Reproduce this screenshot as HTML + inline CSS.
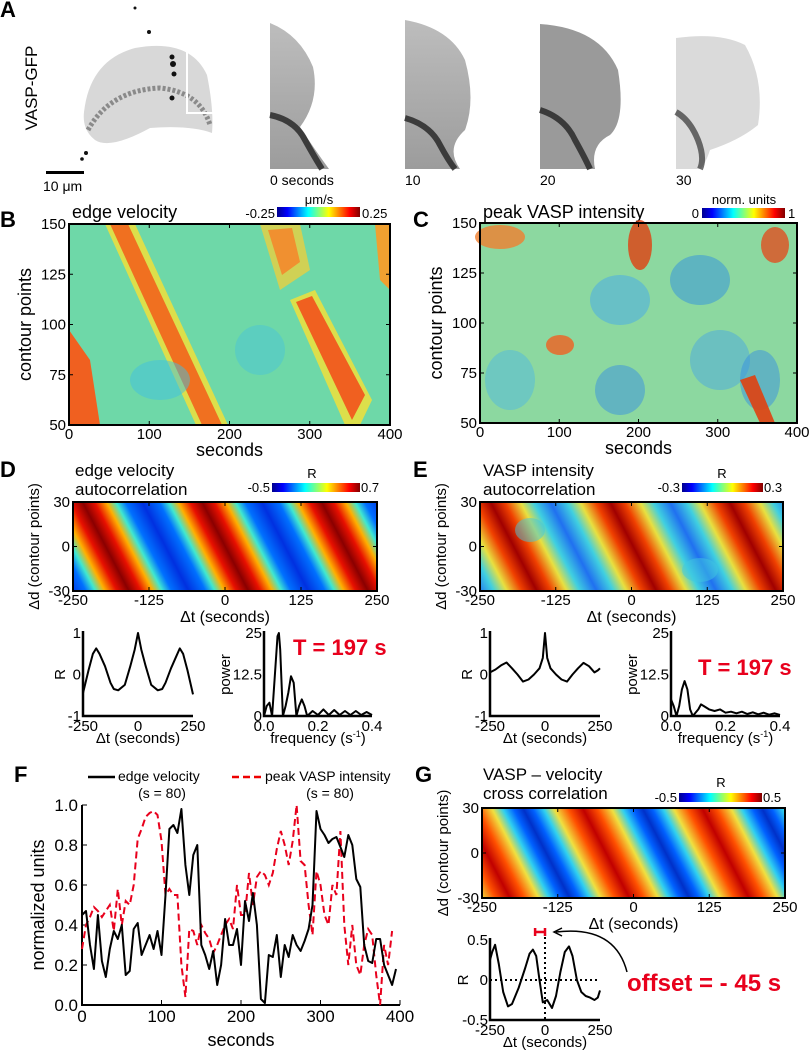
<!DOCTYPE html>
<html><head><meta charset="utf-8"><style>
html,body{margin:0;padding:0;background:#fff;}
svg{display:block;font-family:"Liberation Sans Narrow","Liberation Sans",sans-serif;}
</style></head><body>
<svg id="fig" width="809" height="1050" viewBox="0 0 809 1050" xmlns="http://www.w3.org/2000/svg">
<defs>
<linearGradient id="jet" x1="0" x2="1" y1="0" y2="0">
<stop offset="0" stop-color="#00008f"/><stop offset="0.125" stop-color="#0000ff"/><stop offset="0.375" stop-color="#00ffff"/><stop offset="0.625" stop-color="#ffff00"/><stop offset="0.875" stop-color="#ff0000"/><stop offset="1" stop-color="#800000"/>
</linearGradient>
<linearGradient id="stripeD" gradientUnits="userSpaceOnUse" x1="225" y1="546" x2="319" y2="497" spreadMethod="repeat">
<stop offset="0" stop-color="#8a0000"/><stop offset="0.1" stop-color="#e81000"/><stop offset="0.2" stop-color="#ffb000"/><stop offset="0.28" stop-color="#40e8d0"/><stop offset="0.36" stop-color="#0070ff"/><stop offset="0.5" stop-color="#0030e0"/><stop offset="0.64" stop-color="#0070ff"/><stop offset="0.72" stop-color="#40e8d0"/><stop offset="0.8" stop-color="#ffb000"/><stop offset="0.9" stop-color="#e81000"/><stop offset="1" stop-color="#8a0000"/>
</linearGradient>
<linearGradient id="stripeE" gradientUnits="userSpaceOnUse" x1="633" y1="546" x2="727" y2="497" spreadMethod="repeat">
<stop offset="0" stop-color="#a00000"/><stop offset="0.12" stop-color="#f04000"/><stop offset="0.25" stop-color="#e8e040"/><stop offset="0.36" stop-color="#40d0e0"/><stop offset="0.5" stop-color="#2070f0"/><stop offset="0.64" stop-color="#40d0e0"/><stop offset="0.75" stop-color="#e8e040"/><stop offset="0.88" stop-color="#f04000"/><stop offset="1" stop-color="#a00000"/>
</linearGradient>
<linearGradient id="stripeG" gradientUnits="userSpaceOnUse" x1="606" y1="853" x2="700" y2="804" spreadMethod="repeat">
<stop offset="0" stop-color="#c00000"/><stop offset="0.12" stop-color="#ff5000"/><stop offset="0.24" stop-color="#f0e040"/><stop offset="0.33" stop-color="#30d0f0"/><stop offset="0.42" stop-color="#0060ff"/><stop offset="0.5" stop-color="#0030c8"/><stop offset="0.58" stop-color="#0060ff"/><stop offset="0.67" stop-color="#30d0f0"/><stop offset="0.76" stop-color="#f0e040"/><stop offset="0.88" stop-color="#ff5000"/><stop offset="1" stop-color="#c00000"/>
</linearGradient>
<linearGradient id="frameGray" x1="0" y1="0" x2="0" y2="1"><stop offset="0" stop-color="#bdbdbd"/><stop offset="1" stop-color="#9c9c9c"/></linearGradient>
</defs>

<!-- Panel A -->
<g>
<text x="0" y="17" font-size="22" font-weight="bold" font-family="Liberation Sans">A</text>
<text transform="translate(37,88) rotate(-90)" text-anchor="middle" font-size="17">VASP-GFP</text>
<rect x="48" y="5" width="170" height="140" fill="#ffffff"/>
<path d="M84,112 Q90,60 135,48 Q190,38 207,75 Q214,110 212,133 Q190,125 150,128 Q110,150 95,140 Q82,130 84,112Z" fill="#d8d8d8"/>
<path d="M88,130 Q110,90 160,88 Q200,92 210,125" fill="none" stroke="#777" stroke-width="5" stroke-dasharray="3 2" opacity="0.8"/>
<g fill="#111"><circle cx="135" cy="8" r="1.5"/><circle cx="149" cy="32" r="2"/><circle cx="172" cy="57" r="2.5"/><circle cx="173" cy="64" r="3"/><circle cx="174" cy="74" r="2.5"/><circle cx="172" cy="98" r="2.5"/><circle cx="86" cy="153" r="2"/><circle cx="82" cy="159" r="1.8"/></g>
<path d="M187,38 L187,113 L217,113" fill="none" stroke="#fff" stroke-width="2"/>
<rect x="46" y="171" width="38" height="3" fill="#000"/>
<text x="43" y="191" font-size="14">10 μm</text>
<path d="M270,23 Q300,35 313,67 Q320,100 300,127 Q315,150 329,169 L270,169Z" fill="url(#frameGray)"/>
<path d="M270,115 Q295,120 305,140 Q315,158 322,169" fill="none" stroke="#222" stroke-width="6" opacity="0.8"/>
<path d="M405,20 Q450,28 465,60 Q476,100 465,130 Q445,148 460,169 L405,169Z" fill="url(#frameGray)"/>
<path d="M405,118 Q430,125 440,145 Q448,160 455,169" fill="none" stroke="#222" stroke-width="6" opacity="0.8"/>
<path d="M540,24 Q600,28 618,70 Q626,120 610,135 Q590,145 595,169 L540,169Z" fill="#9a9a9a"/>
<path d="M540,110 Q565,118 575,140 Q585,158 590,169" fill="none" stroke="#222" stroke-width="6" opacity="0.8"/>
<path d="M676,38 Q720,32 745,45 Q765,80 758,125 Q740,140 710,150 Q705,165 700,169 L676,169Z" fill="#dadada"/>
<path d="M676,112 Q690,120 698,140 Q705,158 700,169" fill="none" stroke="#333" stroke-width="6" opacity="0.7"/>
<text x="270" y="185" font-size="14">0 seconds</text>
<text x="405" y="185" font-size="14">10</text>
<text x="540" y="185" font-size="14">20</text>
<text x="676" y="185" font-size="14">30</text>
</g>

<!-- Panel B -->
<g>
<text x="0" y="227" font-size="22" font-weight="bold" font-family="Liberation Sans">B</text>
<text x="72" y="218" font-size="18">edge velocity</text>
<text x="319" y="204" font-size="13" text-anchor="middle">μm/s</text>
<text x="275" y="218" font-size="13" text-anchor="end">-0.25</text>
<rect x="277" y="207" width="83" height="10" fill="url(#jet)"/>
<text x="362" y="218" font-size="13">0.25</text>
<rect x="69" y="224" width="321" height="201" fill="#6ed8a8"/>
<g>
<polygon points="105,224 135,224 228,425 196,425" fill="#e8e040" opacity="0.9"/>
<polygon points="110,224 128,224 222,425 202,425" fill="#f07020"/>
<polygon points="260,224 300,224 310,270 280,290" fill="#e8d040" opacity="0.8"/>
<polygon points="268,230 292,228 300,262 282,275" fill="#f09030"/>
<polygon points="290,300 315,290 372,400 360,425 345,425" fill="#e8e040" opacity="0.9"/>
<polygon points="296,302 312,296 365,395 352,420" fill="#f06020"/>
<polygon points="69,330 90,360 100,425 69,425" fill="#f06020"/>
<polygon points="375,224 390,224 390,290 380,280" fill="#f0a030"/>
<ellipse cx="160" cy="380" rx="30" ry="20" fill="#40c0e0" opacity="0.5"/>
<ellipse cx="260" cy="350" rx="25" ry="25" fill="#40c0e0" opacity="0.4"/>
</g>
<rect x="69" y="224" width="321" height="201" fill="none" stroke="#000" stroke-width="2"/>
</g>

<!-- Panel C -->
<g>
<text x="413" y="227" font-size="22" font-weight="bold" font-family="Liberation Sans">C</text>
<text x="483" y="218" font-size="18">peak VASP intensity</text>
<text x="744" y="204" font-size="13" text-anchor="middle">norm. units</text>
<text x="699" y="218" font-size="13" text-anchor="end">0</text>
<rect x="702" y="208" width="83" height="10" fill="url(#jet)"/>
<text x="788" y="218" font-size="13">1</text>
<rect x="480" y="223" width="317" height="200" fill="#8cd8a0"/>
<ellipse cx="500" cy="237" rx="25" ry="12" fill="#f08030" opacity="0.8"/>
<ellipse cx="640" cy="245" rx="12" ry="25" fill="#e04010" opacity="0.8"/>
<ellipse cx="775" cy="245" rx="14" ry="18" fill="#e05020" opacity="0.8"/>
<ellipse cx="560" cy="345" rx="14" ry="10" fill="#f06020" opacity="0.8"/>
<ellipse cx="620" cy="300" rx="30" ry="25" fill="#50b0e0" opacity="0.6"/>
<ellipse cx="700" cy="280" rx="30" ry="25" fill="#3090e0" opacity="0.5"/>
<ellipse cx="720" cy="360" rx="30" ry="30" fill="#4aa8e0" opacity="0.5"/>
<ellipse cx="620" cy="390" rx="25" ry="25" fill="#3890e0" opacity="0.5"/>
<ellipse cx="760" cy="380" rx="20" ry="30" fill="#3890e0" opacity="0.5"/>
<ellipse cx="510" cy="380" rx="25" ry="30" fill="#50b8e0" opacity="0.5"/>
<polygon points="740,380 755,375 775,423 760,423" fill="#e04010" opacity="0.9"/>
<rect x="480" y="223" width="317" height="200" fill="none" stroke="#000" stroke-width="2"/>
</g>

<!-- Panel D -->
<g>
<text x="0" y="477" font-size="22" font-weight="bold" font-family="Liberation Sans">D</text>
<text x="75" y="476" font-size="17">edge velocity</text>
<text x="75" y="495" font-size="17">autocorrelation</text>
<text x="312" y="478" font-size="13" text-anchor="middle">R</text>
<text x="270" y="492" font-size="13" text-anchor="end">-0.5</text>
<rect x="272" y="483" width="88" height="9" fill="url(#jet)"/>
<text x="361" y="492" font-size="13">0.7</text>
<rect x="73" y="502" width="304" height="89" fill="url(#stripeD)" stroke="#000" stroke-width="2"/>
</g>

<!-- Panel E -->
<g>
<text x="413" y="477" font-size="22" font-weight="bold" font-family="Liberation Sans">E</text>
<text x="483" y="476" font-size="17">VASP intensity</text>
<text x="483" y="495" font-size="17">autocorrelation</text>
<text x="722" y="478" font-size="13" text-anchor="middle">R</text>
<text x="680" y="492" font-size="13" text-anchor="end">-0.3</text>
<rect x="682" y="483" width="81" height="9" fill="url(#jet)"/>
<text x="764" y="492" font-size="13">0.3</text>
<rect x="480" y="502" width="303" height="89" fill="url(#stripeE)" stroke="#000" stroke-width="2"/>
<ellipse cx="530" cy="530" rx="15" ry="12" fill="#40c8e0" opacity="0.5"/>
<ellipse cx="700" cy="570" rx="18" ry="12" fill="#40c8e0" opacity="0.5"/>
</g>

<!-- Panel F -->
<g>
<text x="14" y="782" font-size="22" font-weight="bold" font-family="Liberation Sans">F</text>
<line x1="88" y1="777" x2="115" y2="777" stroke="#000" stroke-width="2.5"/>
<text x="118" y="781" font-size="14">edge velocity</text>
<text x="162" y="798" font-size="14" text-anchor="middle">(s = 80)</text>
<line x1="232" y1="777" x2="262" y2="777" stroke="#e00" stroke-width="2.5" stroke-dasharray="7 4"/>
<text x="265" y="781" font-size="14">peak VASP intensity</text>
<text x="330" y="798" font-size="14" text-anchor="middle">(s = 80)</text>
<text transform="translate(44,905) rotate(-90)" text-anchor="middle" font-size="18">normalized units</text>
<text x="241" y="1046" text-anchor="middle" font-size="18">seconds</text>
</g>

<!-- Panel G -->
<g>
<text x="415" y="782" font-size="22" font-weight="bold" font-family="Liberation Sans">G</text>
<text x="483" y="780" font-size="17">VASP – velocity</text>
<text x="483" y="799" font-size="17">cross correlation</text>
<text x="721" y="787" font-size="13" text-anchor="middle">R</text>
<text x="677" y="802" font-size="13" text-anchor="end">-0.5</text>
<rect x="679" y="793" width="83" height="9" fill="url(#jet)"/>
<text x="763" y="802" font-size="13">0.5</text>
<rect x="482" y="808" width="303" height="90" fill="url(#stripeG)" stroke="#000" stroke-width="2"/>
<text x="627" y="991" font-size="24" font-weight="bold" fill="#e8001c" font-family="Liberation Sans">offset = - 45 s</text>
<path d="M627,972 Q615,925 556,932" fill="none" stroke="#000" stroke-width="1.5"/>
<path d="M562,928 L554,932 L562,936" fill="none" stroke="#000" stroke-width="1.5"/>
</g>
<g id="dyn"></g>
</svg>
<script>
// ---- Panel F data ----
const fEdgeVelocity = [0.45,0.47,0.3,0.18,0.45,0.22,0.14,0.28,0.37,0.33,0.4,0.15,0.17,0.38,0.41,0.25,0.3,0.35,0.28,0.37,0.25,0.55,0.88,0.9,0.86,0.98,0.7,0.55,0.75,0.8,0.3,0.25,0.18,0.27,0.1,0.2,0.43,0.3,0.3,0.38,0.2,0.52,0.42,0.56,0.4,0.03,0.01,0.25,0.24,0.35,0.14,0.3,0.24,0.35,0.3,0.27,0.32,0.38,0.5,0.97,0.88,0.85,0.81,0.83,0.84,0.79,0.74,0.85,0.8,0.63,0.59,0.3,0.22,0.21,0.33,0.33,0.2,0.15,0.1,0.18];
const fVaspIntensity = [0.28,0.4,0.44,0.49,0.47,0.44,0.47,0.5,0.37,0.58,0.4,0.52,0.5,0.6,0.83,0.88,0.94,0.96,0.97,0.95,0.82,0.55,0.58,0.55,0.55,0.2,0.04,0.38,0.37,0.3,0.4,0.36,0.33,0.26,0.3,0.35,0.4,0.43,0.38,0.6,0.45,0.45,0.66,0.5,0.64,0.67,0.65,0.6,0.66,0.78,0.87,0.8,0.7,0.82,1.0,0.72,0.7,0.5,0.35,0.67,0.6,0.45,0.4,0.6,0.55,0.87,0.4,0.2,0.4,0.2,0.15,0.3,0.38,0.35,0.15,0.0,0.3,0.2,0.37];
const fSampleStep = 5;
const fXTicks = [0,100,200,300,400];
const fYTicks = [0.0,0.2,0.4,0.6,0.8,1.0];
// ---- Panel D small plots ----
const dLagX = [-250,-225,-205,-190,-175,-150,-125,-110,-90,-60,-35,-15,0,15,35,60,90,110,125,150,175,190,205,225,250];
const dLagR = [-0.45,0.1,0.5,0.63,0.5,0.2,-0.2,-0.35,-0.38,-0.25,0.2,0.6,1.0,0.6,0.2,-0.25,-0.38,-0.35,-0.2,0.15,0.45,0.63,0.5,0.1,-0.48];
const dFreq = [0,0.01,0.02,0.03,0.04,0.05,0.055,0.06,0.07,0.08,0.09,0.1,0.11,0.12,0.13,0.14,0.15,0.16,0.18,0.2,0.22,0.24,0.26,0.28,0.3,0.32,0.34,0.36,0.38,0.4];
const dPower = [0,3,4,0,12,24,25,20,0,3,7,12,10,0,3,5,3,0,1.5,0.3,2,0.3,1.8,0.3,1.5,0.3,1.5,0.3,1.2,0.3];
// ---- Panel E small plots ----
const eLagX = [-250,-225,-200,-175,-150,-125,-100,-75,-50,-25,-10,0,10,25,50,75,100,125,150,175,200,225,240,250];
const eLagR = [0.05,0.12,0.22,0.29,0.15,0.0,-0.17,-0.12,0.0,0.15,0.4,1.0,0.4,0.15,0.0,-0.12,-0.17,0.0,0.15,0.28,0.2,0.05,0.1,0.15];
const eFreq = [0,0.01,0.02,0.03,0.04,0.05,0.06,0.07,0.08,0.1,0.11,0.12,0.14,0.16,0.18,0.2,0.22,0.24,0.26,0.28,0.3,0.32,0.34,0.36,0.38,0.4];
const ePower = [5,3,0,3,8,10.5,8,2,0,2,3.5,3,2,1.5,2,1,1.3,0.8,1.3,0.6,1.1,0.5,1,0.4,0.8,0.3];
// ---- Panel G small plot ----
const gLagX = [-250,-240,-227,-210,-190,-168,-150,-120,-90,-70,-55,-40,-25,-10,10,32,50,70,90,109,125,145,165,185,205,225,240,250];
const gLagR = [0.25,0.35,0.44,0.2,-0.15,-0.33,-0.3,-0.1,0.15,0.33,0.38,0.3,0.0,-0.28,-0.25,-0.35,-0.2,0.1,0.35,0.42,0.3,0.0,-0.15,-0.2,-0.22,-0.25,-0.22,-0.13];
const gOffset = -45;
// ---- heatmap axes ticks ----
const hmSecondsTicks = [0,100,200,300,400];
const hmContourTicks = [50,75,100,125,150];
const lagTicks = [-250,-125,0,125,250];
const distTicks = [-30,0,30];

const NS = "http://www.w3.org/2000/svg";
const root = document.getElementById('dyn');
function mk(tag, attrs, parent){ const e=document.createElementNS(NS,tag); for(const k in attrs) e.setAttribute(k,attrs[k]); (parent||root).appendChild(e); return e; }
function lin(d0,d1,r0,r1){ return v => r0 + (v-d0)/(d1-d0)*(r1-r0); }
function txt(x,y,s,size,anchor){ const t=mk('text',{x:x,y:y,'font-size':size,'text-anchor':anchor||'middle'}); t.textContent=s; return t; }

function heatAxes(x0,x1,y0,y1,xd,yd,xt,yt,xTitle,yTitle,name){
  const sx=lin(xd[0],xd[1],x0,x1), sy=lin(yd[0],yd[1],y1,y0);
  xt.forEach(v=>{ mk('line',{x1:sx(v),x2:sx(v),y1:y1,y2:y1-4,stroke:'#000'}); mk('line',{x1:sx(v),x2:sx(v),y1:y0,y2:y0+4,stroke:'#000'});
    const t=txt(sx(v),y1+14,String(v),15);
    
     });
  yt.forEach(v=>{ mk('line',{x1:x0,x2:x0+4,y1:sy(v),y2:sy(v),stroke:'#000'}); mk('line',{x1:x1,x2:x1-4,y1:sy(v),y2:sy(v),stroke:'#000'});
    const t=txt(x0-3,sy(v)+5,String(v),15,'end');
    
     });
  const xt2=txt((x0+x1)/2,y1+31,xTitle,xTitle==='seconds'?18:16);
  
  
  const yt2=mk('text',{transform:`translate(${x0-(yTitle==='contour points'?38:34)},${(y0+y1)/2}) rotate(-90)`,'text-anchor':'middle','font-size':yTitle==='contour points'?18:15});
  yt2.textContent=yTitle;
  
  
}
heatAxes(69,390,224,425,[0,400],[50,150],hmSecondsTicks,hmContourTicks,'seconds','contour points','b');
heatAxes(480,797,223,423,[0,400],[50,150],hmSecondsTicks,hmContourTicks,'seconds','contour points','c');
heatAxes(73,377,502,591,[-250,250],[-30,30],lagTicks,distTicks,'Δt (seconds)','Δd (contour points)','d');
heatAxes(480,783,502,591,[-250,250],[-30,30],lagTicks,distTicks,'Δt (seconds)','Δd (contour points)','e');
heatAxes(482,785,808,898,[-250,250],[-30,30],lagTicks,distTicks,'Δt (seconds)','Δd (contour points)','g');

function smallPlot(o){
  const sx=lin(o.xd[0],o.xd[1],o.x0,o.x1), sy=lin(o.yd[0],o.yd[1],o.y1,o.y0);
  const ax=mk('path',{d:`M${o.x0},${o.y0-2}L${o.x0},${o.y1}L${o.x1},${o.y1}`,fill:'none',stroke:'#000','stroke-width':2.5});
  
  
  o.xt.forEach(v=>{ const t=txt(sx(v),o.y1+15,o.xfmt?o.xfmt(v):String(v),15);
    
     });
  o.yt.forEach(v=>{ const t=txt(o.x0-2,sy(v)+5,o.yfmt?o.yfmt(v):String(v),15,'end');
    
     });
  const xl=txt((o.x0+o.x1)/2,o.y1+27,'',15);
  if(o.xTitleSup){ xl.textContent=o.xTitle; const ts=mk('tspan',{'font-size':9,dy:-6},xl); ts.textContent='-1'; const tc=mk('tspan',{dy:6},xl); tc.textContent=')'; } else xl.textContent=o.xTitle;
  
  
  const yl=mk('text',{transform:`translate(${o.x0-o.yTitleOff},${(o.y0+o.y1)/2}) rotate(-90)`,'text-anchor':'middle','font-size':15});
  yl.textContent=o.yTitle;
  
  
  const d=o.xs.map((x,i)=>(i?'L':'M')+sx(x).toFixed(1)+','+sy(o.ys[i]).toFixed(1)).join('');
  const p=mk('path',{d:d,fill:'none',stroke:'#000','stroke-width':2,'stroke-linejoin':'round'});
  
  
  return {sx,sy};
}
smallPlot({name:'d-autocorr',x0:83,x1:193,y0:633,y1:716,xd:[-250,250],yd:[-1,1],xt:[-250,0,250],yt:[-1,0,1],xTitle:'Δt (seconds)',yTitle:'R',yTitleOff:18,xs:dLagX,ys:dLagR});
smallPlot({name:'d-power',x0:264,x1:372,y0:633,y1:716,xd:[0,0.4],yd:[0,25],xt:[0,0.2,0.4],yt:[0,12.5,25],xfmt:v=>v.toFixed(1),xTitle:'frequency (s',xTitleSup:true,yTitle:'power',yTitleOff:34,xs:dFreq,ys:dPower});
smallPlot({name:'e-autocorr',x0:490,x1:600,y0:633,y1:716,xd:[-250,250],yd:[-1,1],xt:[-250,0,250],yt:[-1,0,1],xTitle:'Δt (seconds)',yTitle:'R',yTitleOff:18,xs:eLagX,ys:eLagR});
smallPlot({name:'e-power',x0:671,x1:780,y0:633,y1:716,xd:[0,0.4],yd:[0,25],xt:[0,0.2,0.4],yt:[0,12.5,25],xfmt:v=>v.toFixed(1),xTitle:'frequency (s',xTitleSup:true,yTitle:'power',yTitleOff:34,xs:eFreq,ys:ePower});
const g=smallPlot({name:'g-crosscorr',x0:490,x1:600,y0:940,y1:1020,xd:[-250,250],yd:[-0.5,0.5],xt:[-250,0,250],yt:[-0.5,0,0.5],xTitle:'Δt (seconds)',yTitle:'R',yTitleOff:22,xs:gLagX,ys:gLagR});
const z=mk('line',{x1:490,x2:600,y1:g.sy(0),y2:g.sy(0),stroke:'#000','stroke-width':2,'stroke-dasharray':'2 3'});


const vz=mk('line',{x1:g.sx(0),x2:g.sx(0),y1:932,y2:1020,stroke:'#000','stroke-width':2,'stroke-dasharray':'2 3'});


const ob=mk('path',{d:`M${g.sx(gOffset)},928V936M${g.sx(gOffset)},932H${g.sx(0)}M${g.sx(0)},928V936`,stroke:'#e8001c','stroke-width':2.5,fill:'none'});



// T labels
[[293,655],[698,675]].forEach(([x,y])=>{ const t=mk('text',{x:x,y:y,'font-size':22,'font-weight':'bold',fill:'#e8001c','font-family':'Liberation Sans'}); t.textContent='T = 197 s';
  
   });

// Panel F line chart
const fx=lin(0,400,82,400), fy=lin(0,1,1005,805);
const fa=mk('path',{d:'M82,805L82,1005L400,1005',fill:'none',stroke:'#000','stroke-width':2});


fXTicks.forEach(v=>{ mk('line',{x1:fx(v),x2:fx(v),y1:1005,y2:1000,stroke:'#000'}); const t=txt(fx(v),1022,String(v),17);
  
   });
fYTicks.forEach(v=>{ mk('line',{x1:82,x2:87,y1:fy(v),y2:fy(v),stroke:'#000'}); const t=txt(78,fy(v)+6,v.toFixed(1),17,'end');
  
   });
const vp=mk('path',{d:fVaspIntensity.map((v,i)=>(i?'L':'M')+fx(i*fSampleStep).toFixed(1)+','+fy(v).toFixed(1)).join(''),fill:'none',stroke:'#e8001c','stroke-width':2,'stroke-dasharray':'7 4'});


const ep=mk('path',{d:fEdgeVelocity.map((v,i)=>(i?'L':'M')+fx(i*fSampleStep).toFixed(1)+','+fy(v).toFixed(1)).join(''),fill:'none',stroke:'#000','stroke-width':2,'stroke-linejoin':'round'});


</script>
</body></html>
